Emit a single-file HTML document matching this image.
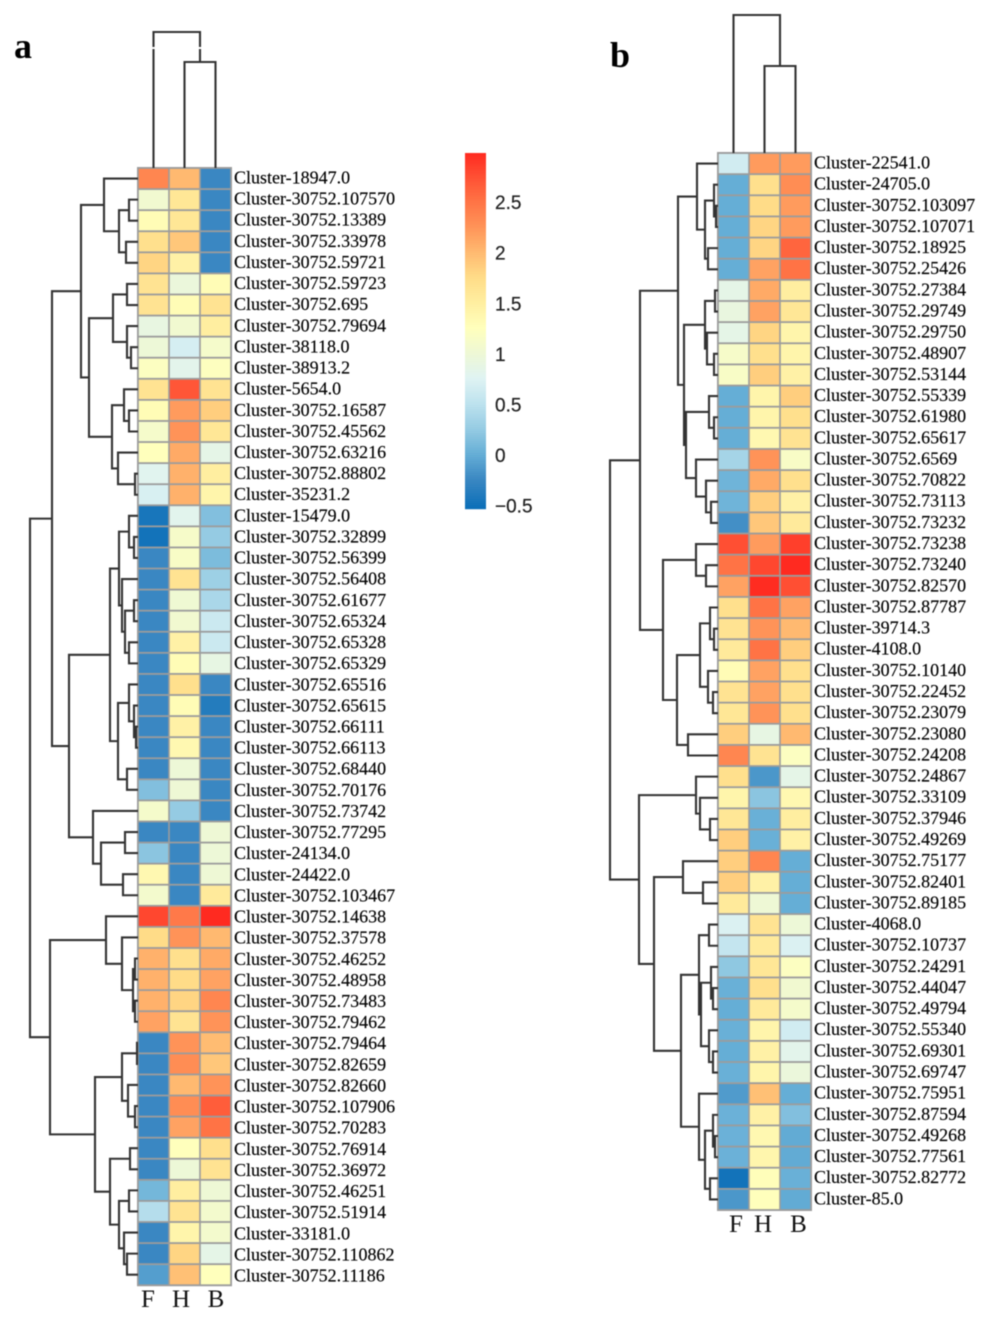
<!DOCTYPE html>
<html lang="en">
<head>
<meta charset="utf-8">
<title>Clustered heatmaps a and b</title>
<style>
html,body{margin:0;padding:0;background:#fff;}
svg{display:block;filter:blur(0.5px);}
.lbl{font-family:"Liberation Serif",serif;font-size:18px;fill:#000;stroke:#000;stroke-width:0.15px;}
.col{font-family:"Liberation Serif",serif;font-size:25px;fill:#111;}
.pan{font-family:"Liberation Serif",serif;font-size:36px;font-weight:bold;fill:#000;}
.tick{font-family:"Liberation Sans",sans-serif;font-size:19px;fill:#222;stroke:#222;stroke-width:0.2px;}
</style>
</head>
<body>
<svg id="chart" xmlns="http://www.w3.org/2000/svg" width="986" height="1317" viewBox="0 0 986 1317">
<rect width="986" height="1317" fill="#fff"/>
<text class="pan" x="14" y="58">a</text>
<text class="pan" x="610" y="67">b</text>
</svg>
<script>
const columnNames = ["F", "H", "B"];

const rowsA = ["Cluster-18947.0","Cluster-30752.107570","Cluster-30752.13389","Cluster-30752.33978","Cluster-30752.59721","Cluster-30752.59723","Cluster-30752.695","Cluster-30752.79694","Cluster-38118.0","Cluster-38913.2","Cluster-5654.0","Cluster-30752.16587","Cluster-30752.45562","Cluster-30752.63216","Cluster-30752.88802","Cluster-35231.2","Cluster-15479.0","Cluster-30752.32899","Cluster-30752.56399","Cluster-30752.56408","Cluster-30752.61677","Cluster-30752.65324","Cluster-30752.65328","Cluster-30752.65329","Cluster-30752.65516","Cluster-30752.65615","Cluster-30752.66111","Cluster-30752.66113","Cluster-30752.68440","Cluster-30752.70176","Cluster-30752.73742","Cluster-30752.77295","Cluster-24134.0","Cluster-24422.0","Cluster-30752.103467","Cluster-30752.14638","Cluster-30752.37578","Cluster-30752.46252","Cluster-30752.48958","Cluster-30752.73483","Cluster-30752.79462","Cluster-30752.79464","Cluster-30752.82659","Cluster-30752.82660","Cluster-30752.107906","Cluster-30752.70283","Cluster-30752.76914","Cluster-30752.36972","Cluster-30752.46251","Cluster-30752.51914","Cluster-33181.0","Cluster-30752.110862","Cluster-30752.11186"];

const valuesAF = [2.35,1.05,1.3,1.7,1.8,1.65,1.65,0.9,0.98,1.2,1.65,1.3,1.1,1.25,0.78,0.7,-0.45,-0.48,-0.25,-0.25,-0.25,-0.25,-0.25,-0.25,-0.25,-0.25,-0.25,-0.25,-0.25,0.15,1.1,-0.25,0.2,1.35,1.08,2.8,1.75,2.05,2.05,2.05,2.15,-0.25,-0.25,-0.25,-0.25,-0.25,-0.25,-0.25,0.08,0.45,-0.25,-0.25,-0.1];
const valuesAH = [2.0,1.6,1.6,1.9,1.45,0.95,1.3,1.05,0.68,0.82,2.7,2.2,2.25,2.1,2.05,2.05,0.8,1.12,1.15,1.65,1.02,1.05,1.45,1.3,1.7,1.3,1.45,1.35,0.98,1.0,0.25,-0.25,-0.25,-0.25,-0.25,2.45,2.25,1.7,1.75,1.8,1.65,2.25,2.3,2.0,2.3,2.15,1.25,0.98,1.5,1.65,1.4,1.8,1.95];
const valuesAB = [-0.25,-0.25,-0.25,-0.25,-0.25,1.3,1.65,1.5,1.1,1.22,1.65,1.85,1.6,0.85,1.5,1.4,0.15,0.25,0.12,0.3,0.38,0.6,0.6,0.88,-0.25,-0.38,-0.25,-0.25,-0.25,-0.25,-0.25,1.0,0.98,1.0,1.55,2.98,2.0,2.1,2.15,2.35,2.25,1.98,1.9,2.25,2.65,2.5,1.7,1.65,1.0,1.08,1.08,0.85,1.25];

const rowsB = ["Cluster-22541.0","Cluster-24705.0","Cluster-30752.103097","Cluster-30752.107071","Cluster-30752.18925","Cluster-30752.25426","Cluster-30752.27384","Cluster-30752.29749","Cluster-30752.29750","Cluster-30752.48907","Cluster-30752.53144","Cluster-30752.55339","Cluster-30752.61980","Cluster-30752.65617","Cluster-30752.6569","Cluster-30752.70822","Cluster-30752.73113","Cluster-30752.73232","Cluster-30752.73238","Cluster-30752.73240","Cluster-30752.82570","Cluster-30752.87787","Cluster-39714.3","Cluster-4108.0","Cluster-30752.10140","Cluster-30752.22452","Cluster-30752.23079","Cluster-30752.23080","Cluster-30752.24208","Cluster-30752.24867","Cluster-30752.33109","Cluster-30752.37946","Cluster-30752.49269","Cluster-30752.75177","Cluster-30752.82401","Cluster-30752.89185","Cluster-4068.0","Cluster-30752.10737","Cluster-30752.24291","Cluster-30752.44047","Cluster-30752.49794","Cluster-30752.55340","Cluster-30752.69301","Cluster-30752.69747","Cluster-30752.75951","Cluster-30752.87594","Cluster-30752.49268","Cluster-30752.77561","Cluster-30752.82772","Cluster-85.0"];

const valuesBF = [0.65,0,0,0,0,0,0.85,0.92,0.85,1.12,1.15,0,0,0,0.35,0.05,0.05,-0.2,2.75,2.5,2.15,1.7,1.65,1.55,1.3,1.65,1.6,1.85,2.35,1.7,1.4,1.6,1.85,1.85,1.85,1.55,0.72,0.55,0.22,0.02,0,0.02,0,0.02,-0.12,0.03,0.03,0.03,-0.48,-0.15];
const valuesBH = [2.2,1.7,1.75,1.8,1.8,2.15,2.1,2.15,1.8,1.7,1.85,1.4,1.4,1.35,2.25,2.1,1.85,1.9,2.2,2.8,2.97,2.5,2.25,2.5,2.15,2.15,2.25,0.88,1.65,-0.15,0.2,0.02,0.02,2.35,1.45,1.0,1.65,1.55,1.6,1.7,1.55,1.4,1.45,1.4,1.95,1.45,1.35,1.38,1.27,1.25];
const valuesBB = [2.2,2.3,2.2,2.2,2.6,2.5,1.5,1.6,1.4,1.4,1.45,1.85,1.7,1.65,1.15,1.7,1.45,1.55,2.85,3.0,2.75,2.15,2.0,1.85,1.7,1.7,1.7,2.0,1.2,0.85,1.35,1.5,1.45,0,0,0,0.98,0.72,1.2,1.05,1.1,0.65,0.82,0.95,0,0.15,-0.02,-0.02,0.02,-0.02];

/* Dendrograms: [merge distance, child, child]; a bare number is a 1-based row index. */
const treeA = [10.8,
 [8.6,
  [5.7,
   [3.4,1,[1.9,[0.9,2,3],[1.2,4,5]]],
   [4.9,
    [2.5,[1.1,6,7],[1.1,8,[0.7,9,10]]],
    [2.6,[1.4,11,[0.9,12,13]],[2.0,14,[0.3,15,16]]]]],
  [6.9,
   [2.8,
    [1.9,[0.9,17,[0.4,18,19]],[1.6,20,[1.3,[0.4,21,22],[0.9,23,24]]]],
    [2.0,[0.9,25,[0.4,26,[0.2,27,28]]],[1.1,29,30]]],
   [4.5,31,[3.7,[1.3,32,33],[1.5,34,35]]]]],
 [8.8,
  [3.2,36,[1.6,37,[0.5,[0.3,38,39],[0.3,40,41]]]],
  [4.3,
   [1.6,[0.1,42,43],[1.0,44,[0.3,45,46]]],
   [2.8,[0.8,47,48],[1.9,[0.9,49,50],[1.4,51,[1.1,52,53]]]]]]];

const treeB = [10.8,
 [7.8,
  [4.0,
   [2.1,1,[1.3,[0.4,2,[0.2,3,4]],[1.0,5,6]]],
   [3.4,
    [1.3,[0.3,7,8],[1.1,9,[0.4,10,11]]],
    [3.2,[0.9,12,[0.4,13,14]],[2.2,15,[1.2,16,[0.7,17,18]]]]]],
  [5.5,
   [2.2,19,[1.2,20,21]],
   [4.1,
    [1.8,[0.8,22,[0.4,23,24]],[1.0,25,[0.5,26,27]]],
    [3.0,28,29]]]],
 [7.9,
  [2.2,30,[1.8,31,[0.8,32,33]]],
  [6.4,
   [3.5,34,[1.5,35,36]],
   [3.7,
    [1.9,[0.9,37,38],[1.7,[0.7,39,[0.5,40,41]],[0.9,42,[0.5,43,44]]]],
    [1.9,45,[1.3,[0.5,46,[0.3,47,48]],[0.8,49,50]]]]]]];

const colTreeA = [13.6, 0, [10.6, 1, 2]];
const colTreeB = [13.8, 0, [8.7, 1, 2]];

const legendTicks = [2.5, 2, 1.5, 1, 0.5, 0, -0.5];
const legendTickLabels = ["2.5", "2", "1.5", "1", "0.5", "0", "\u22120.5"];
const scaleMin = -0.53;
const scaleMax = 2.98;

const colorValues = [-0.53,-0.25,0,0.25,0.5,0.75,1,1.25,1.5,1.75,2,2.25,2.5,2.75,2.98];
const colorHex = ["#0b6fb8","#3a87c2","#65aed6","#95cbe3","#bde2ee","#dff3f3","#eef8d5","#ffffbc","#ffeea0","#ffdc88","#ffb970","#ff9358","#ff7345","#ff4f33","#ff2a20"];

const NS = "http://www.w3.org/2000/svg";
const svg = document.getElementById("chart");

function make(tag, attrs, parent) {
  const el = document.createElementNS(NS, tag);
  for (const k in attrs) el.setAttribute(k, attrs[k]);
  parent.appendChild(el);
  return el;
}
function hexRgb(h) {
  return [parseInt(h.slice(1, 3), 16), parseInt(h.slice(3, 5), 16), parseInt(h.slice(5, 7), 16)];
}
function colorOf(v) {
  const c = Math.max(colorValues[0], Math.min(colorValues[colorValues.length - 1], v));
  let i = 0;
  while (i < colorValues.length - 2 && c > colorValues[i + 1]) i++;
  const t = (c - colorValues[i]) / (colorValues[i + 1] - colorValues[i]);
  const a = hexRgb(colorHex[i]);
  const b = hexRgb(colorHex[i + 1]);
  return "rgb(" + a.map((x, j) => Math.round(x + (b[j] - x) * t)).join(",") + ")";
}

function drawPanel(p) {
  const g = make("g", {}, svg);
  
  
  const rowH = p.rowH;
  const colW = 31;
  const yMid = i => p.top + (i + 0.5) * rowH;
  const colMid = j => p.left + (j + 0.5) * colW;

  const frame = make("rect", { x: p.left - 1, y: p.top - 1, width: colW * 3 + 2, height: rowH * p.rows.length + 2, fill: "#9c9c9c" }, g);
  
  

  p.rows.forEach((name, i) => {
    p.values.forEach((series, j) => {
      const c = make("rect", { x: p.left + j * colW + 0.8, y: p.top + i * rowH + 0.9, width: colW - 1.6, height: rowH - 1.8, fill: colorOf(series[i]) }, g);
      
      
    });
    const t = make("text", { x: p.labelX, y: p.labelTop + i * p.labelStep + 5.5, class: "lbl" }, g);
    t.textContent = name;
    
    
  });

  columnNames.forEach((name, j) => {
    const t = make("text", { x: p.colLabelX[j], y: p.colLabelY, class: "col", "text-anchor": "middle" }, g);
    t.textContent = name;
    
    
  });

  const xOfDist = h => p.left - h * 10;
  const yOfDist = h => p.top - h * 10;
  let d = "";
  function walkRow(n) {
    if (typeof n === "number") return { pos: yMid(n - 1), x: p.left };
    const a = walkRow(n[1]);
    const b = walkRow(n[2]);
    const x = xOfDist(n[0]);
    d += "M" + a.x + " " + a.pos + "H" + x + "V" + b.pos + "H" + b.x;
    return { pos: (a.pos + b.pos) / 2, x: x };
  }
  walkRow(p.tree);
  const rowLines = make("path", { d: d, fill: "none", stroke: "#333", "stroke-width": 2.1 }, g);
  
  

  d = "";
  function walkCol(n) {
    if (typeof n === "number") return { pos: colMid(n), y: p.top };
    const a = walkCol(n[1]);
    const b = walkCol(n[2]);
    const y = yOfDist(n[0]);
    d += "M" + a.pos + " " + a.y + "V" + y + "H" + b.pos + "V" + b.y;
    return { pos: (a.pos + b.pos) / 2, y: y };
  }
  walkCol(p.colTree);
  const colLines = make("path", { d: d, fill: "none", stroke: "#333", "stroke-width": 2.1 }, g);
  
  
}

drawPanel({ id: "a", rows: rowsA, values: [valuesAF, valuesAH, valuesAB], tree: treeA, colTree: colTreeA, left: 138, top: 168, rowH: 21.08, labelX: 234, labelTop: 178, labelStep: 21.115, colLabelX: [148, 181, 216], colLabelY: 1307 });
drawPanel({ id: "b", rows: rowsB, values: [valuesBF, valuesBH, valuesBB], tree: treeB, colTree: colTreeB, left: 718, top: 153, rowH: 21.14, labelX: 814, labelTop: 163, labelStep: 21.14, colLabelX: [736, 763, 798.5], colLabelY: 1232 });

/* white nicks across the top dendrogram of panel a */
const nickPath = make("path", { d: "M149 48H158M196 48H205", stroke: "#fff", "stroke-width": 2, fill: "none" }, svg);



/* colour legend */
const legendTop = 153;
const legendBottom = 508;
const legendX = 465;
const legendW = 21;
const yLegend = v => legendTop + (scaleMax - v) * (legendBottom - legendTop) / (scaleMax - scaleMin);
const legend = make("g", {}, svg);


for (let y = legendTop; y < legendBottom; y += 2) {
  const v = scaleMax - (y + 1 - legendTop) * (scaleMax - scaleMin) / (legendBottom - legendTop);
  const s = make("rect", { x: legendX, y: y, width: legendW, height: 2.2, fill: colorOf(v) }, legend);
  
  
}
legendTicks.forEach((v, i) => {
  const t = make("text", { x: 495, y: yLegend(v) + 7.6, class: "tick" }, legend);
  t.textContent = legendTickLabels[i];
  
  
});
</script>
</body>
</html>
